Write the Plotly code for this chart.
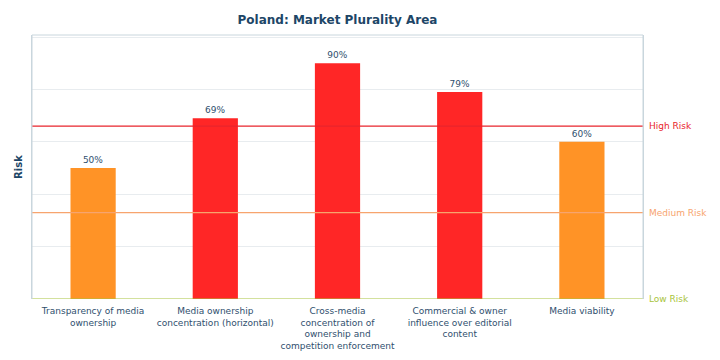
import plotly.graph_objects as go

categories = [
    "Transparency of media<br>ownership",
    "Media ownership<br>concentration (horizontal)",
    "Cross-media<br>concentration of<br>ownership and<br>competition enforcement",
    "Commercial & owner<br>influence over editorial<br>content",
    "Media viability",
]
values = [50, 69, 90, 79, 60]
bar_colors = ["#ff9326", "#ff2626", "#ff2626", "#ff2626", "#ff9326"]
thresholds = [66, 33, 0]
threshold_names = ["High Risk", "Medium Risk", "Low Risk"]
threshold_colors = ["#e8242c", "#f7a46e", "#a8c43c"]

FONT = "DejaVu Sans"
DARK = "#1d4667"
TXT = "#2f4f6e"

fig = go.Figure()
fig.add_trace(go.Bar(
    x=categories, y=values,
    marker=dict(color=bar_colors, line=dict(width=0)),
    width=0.37,
    text=[f"{v}%" for v in values],
    textposition="outside",
    textfont=dict(family=FONT, size=9, color=TXT),
    cliponaxis=False,
    hoverinfo="skip",
))

for t, name, c in zip(thresholds, threshold_names, threshold_colors):
    fig.add_shape(type="line", xref="paper", x0=0, x1=1, yref="y", y0=t, y1=t,
                  line=dict(color=c, width=1.2), layer="above")
    fig.add_annotation(xref="paper", x=1, yref="y", y=t, text=name,
                       showarrow=False, xanchor="left", xshift=4,
                       font=dict(family=FONT, size=9, color=c))

fig.update_layout(
    width=720, height=360,
    margin=dict(l=24, r=85, t=27, b=69, autoexpand=False),
    paper_bgcolor="white", plot_bgcolor="white",
    showlegend=False,
    title=dict(text="<b>Poland: Market Plurality Area</b>", x=329.5 / 720,
               xanchor="center", y=1 - 12 / 360, yanchor="middle",
               font=dict(family=FONT, size=12, color=DARK)),
    font=dict(family=FONT),
)
fig.update_xaxes(
    tickfont=dict(family=FONT, size=9, color=TXT),
    showline=False, showgrid=False, ticks="outside", ticklen=3, tickcolor="rgba(0,0,0,0)",
    tickangle=0, automargin=False,
)
fig.update_yaxes(
    range=[0, 100.8], dtick=20, showticklabels=False,
    showgrid=True, gridcolor="#e8ecef", gridwidth=1,
    zeroline=False, automargin=False,
    showline=True, linecolor="#c9d6dd", linewidth=1, mirror=True,
    title=dict(text="<b>Risk</b>", standoff=6, font=dict(family=FONT, size=10, color=DARK)),
)
fig.add_shape(type="line", xref="paper", x0=0, x1=0, yref="paper", y0=0, y1=1,
              line=dict(color="#c9d6dd", width=1))
fig.add_shape(type="line", xref="paper", x0=1, x1=1, yref="paper", y0=0, y1=1,
              line=dict(color="#c9d6dd", width=1))
fig.add_shape(type="line", xref="paper", x0=0, x1=1, yref="paper", y0=1, y1=1,
              line=dict(color="#c9d6dd", width=1))

fig.write_html("out.html")
